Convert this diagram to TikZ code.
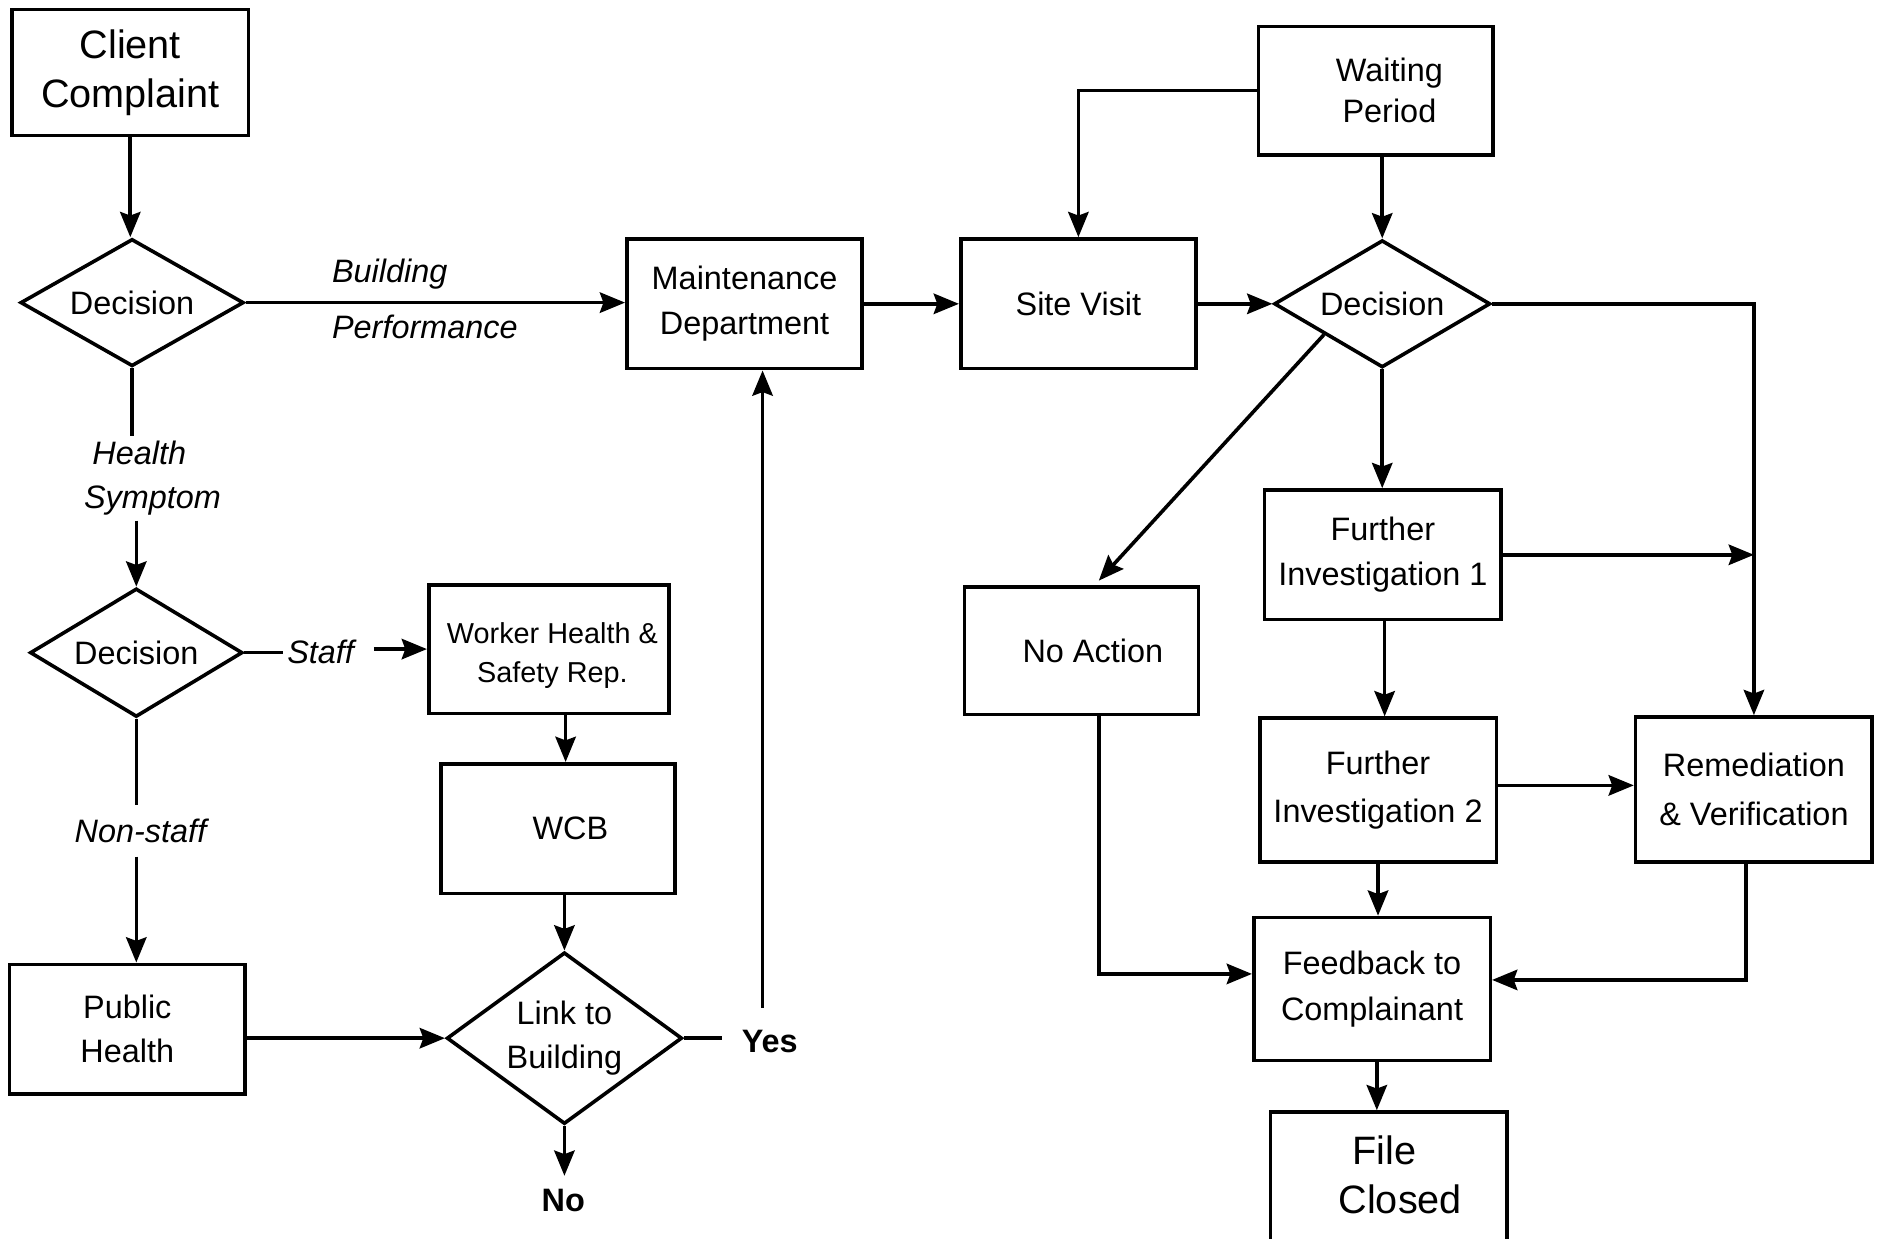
\documentclass[tikz,border=0pt]{standalone}
\usepackage{fontspec}
\setmainfont{Liberation Sans}
\usetikzlibrary{arrows.meta,shapes.geometric,calc}
\begin{document}
\begin{tikzpicture}[x=0.5pt,y=-0.5pt,
  line width=1.5pt,
  arr/.style={-{Stealth[length=10.5pt,width=8.5pt,inset=1.5pt]}},
  box/.style={draw, rectangle, align=center, inner sep=0pt, font=\fontsize{13.5}{18.5}\selectfont},
  dec/.style={draw, diamond, align=center, inner sep=0pt, aspect=1.6, font=\fontsize{13.5}{18}\selectfont},
  lab/.style={font=\fontsize{13.5}{18.5}\selectfont\itshape, inner sep=0pt, align=center},
  blab/.style={font=\fontsize{13.5}{18}\selectfont\bfseries, inner sep=0pt}
]
\useasboundingbox (0,0) rectangle (1568,1031);
\clip (0,0) rectangle (1568,1031);

% boxes
\node[box, minimum width=98.5pt, minimum height=52.5pt, font=\fontsize{16.5}{20.5}\selectfont] (cc) at (108.5,60.5) {Client\\Complaint};
\node[box, minimum width=98pt, minimum height=54pt] (maint) at (620,253) {Maintenance\\Department};
\node[box, minimum width=98pt, minimum height=54pt] (site) at (898,253) {Site Visit};
\node[box, minimum width=97.5pt, minimum height=53.5pt, font=\fontsize{13.5}{17}\selectfont] (wait) at (1145.5,75.5) {\hspace*{11.5pt}Waiting\\\hspace*{11.5pt}Period};
\node[box, minimum width=98.5pt, minimum height=54pt] (fi1) at (1151.5,462) {Further\\Investigation 1};
\node[box, minimum width=97.5pt, minimum height=53pt] (noa) at (900.5,542) {\hspace*{9.5pt}No Action};
\node[box, minimum width=98.5pt, minimum height=60pt, font=\fontsize{13.5}{20}\selectfont] (fi2) at (1147.5,658) {Further\\Investigation 2};
\node[box, minimum width=98.5pt, minimum height=60.5pt, font=\fontsize{13.5}{20.5}\selectfont] (rem) at (1460.5,657.5) {Remediation\\\& Verification};
\node[box, minimum width=98.5pt, minimum height=59.5pt, font=\fontsize{13.5}{19}\selectfont] (feed) at (1142.5,823.5) {Feedback to\\Complainant};
\node[box, minimum width=98.5pt, minimum height=59.5pt] (file) at (1156.5,985.5) {};
\node[font=\fontsize{16.5}{20.5}\selectfont, align=center, inner sep=0pt] (filetxt) at (1153,978.5) {File\\\hspace*{13pt}Closed};
\node[box, minimum width=100pt, minimum height=53.5pt] (worker) at (457,540.5) {};
\node[font=\fontsize{12}{16}\selectfont, align=center, inner sep=0pt] (workertxt) at (460,546) {Worker Health \&\\Safety Rep.};
\node[box, minimum width=97.5pt, minimum height=54pt] (wcb) at (464.5,690) {\hspace*{10.5pt}WCB};
\node[box, minimum width=98pt, minimum height=54pt] (ph) at (106,857) {Public\\Health};

% decisions
\node[dec, minimum width=93pt, minimum height=53pt] (d1) at (110,252) {Decision};
\node[dec, minimum width=90pt, minimum height=53pt] (d2) at (1151,253) {Decision};
\node[dec, minimum width=88.5pt, minimum height=53.5pt] (d3) at (113.5,543.5) {Decision};
\node[dec, minimum width=98pt, minimum height=71.5pt] (link) at (470,864.5) {Link to\\Building};

% labels
\node[lab, anchor=west] (bld) at (275,228) {Building};
\node[lab, anchor=west] (perf) at (275,272) {Performance};
\node[lab] (hs) at (116,398) {Health\\\hspace*{11pt}Symptom};
\node[lab] (st) at (267,543) {Staff};
\node[lab] (ns) at (117,692) {Non-staff};
\node[blab] (yes) at (641,867) {Yes};
\node[blab] (no) at (469,1000) {No};

% connectors
\draw[arr] (cc.south) -- (cc.south |- d1.north);
\draw[arr] (d1.east) -- (d1.east -| maint.west);
\draw[arr] (maint.east) -- (site.west);
\draw[arr] (site.east) -- (d2.west);
\draw[arr] (d2.north |- wait.south) -- (d2.north);
\draw[arr] (wait.west) -| (site.north);
\draw[arr] (d2.east) -| (rem.north);
\draw[arr] (d2.south) -- (d2.south |- fi1.north);
\draw[arr] ($(d2.west)!0.47!(d2.south)$) -- ($(noa.north)+(14.5,-4)$);
\draw[arr] (fi1.east) -- (fi1.east -| rem.north);
\draw[arr] ($(fi1.south)+(1.5,0)$) -- ($(fi1.south |- fi2.north)+(1.5,0)$);
\draw[arr] ($(fi2.east)+(0,-4)$) -- ($(fi2.east -| rem.west)+(0,-4)$);
\draw[arr] (fi2.south) -- (fi2.south |- feed.north);
\draw[arr] ($(noa.south)+(14.5,0)$) |- ($(feed.west)+(0,-12.5)$);
\draw[arr] ($(rem.south)+(-6.5,0)$) |- ($(feed.east)+(0,-7.5)$);
\draw[arr] ($(feed.south)+(4,0)$) -- ($(feed.south |- file.north)+(4,0)$);

\draw (d1.south) -- ($(d1.south |- hs.north)+(0,-2)$);
\draw[arr] ($(hs.south -| d3.north)+(0,3)$) -- (d3.north);
\draw (d3.east) -- ($(d3.east -| st.west)+(-2,0)$);
\draw[arr] ($(worker.west -| st.east)+(15,0)$) -- (worker.west);
\draw (d3.south) -- ($(d3.south |- ns.north)+(0,-10)$);
\draw[arr] ($(d3.south |- ns.south)+(0,10)$) -- (d3.south |- ph.north);
\draw[arr] ($(worker.south)+(14,0)$) -- ($(worker.south |- wcb.north)+(14,0)$);
\draw[arr] (link.north |- wcb.south) -- (link.north);
\draw[arr] (ph.east |- link.west) -- (link.west);
\draw (link.east) -- ($(link.east -| yes.west)+(-15,0)$);
\coordinate (yup) at ($(yes.north)+(-6,-17)$);
\draw[arr] (yup) -- (yup |- maint.south);
\draw[arr] (link.south) -- ($(link.south |- no.north)+(0,-10)$);
\end{tikzpicture}
\end{document}
